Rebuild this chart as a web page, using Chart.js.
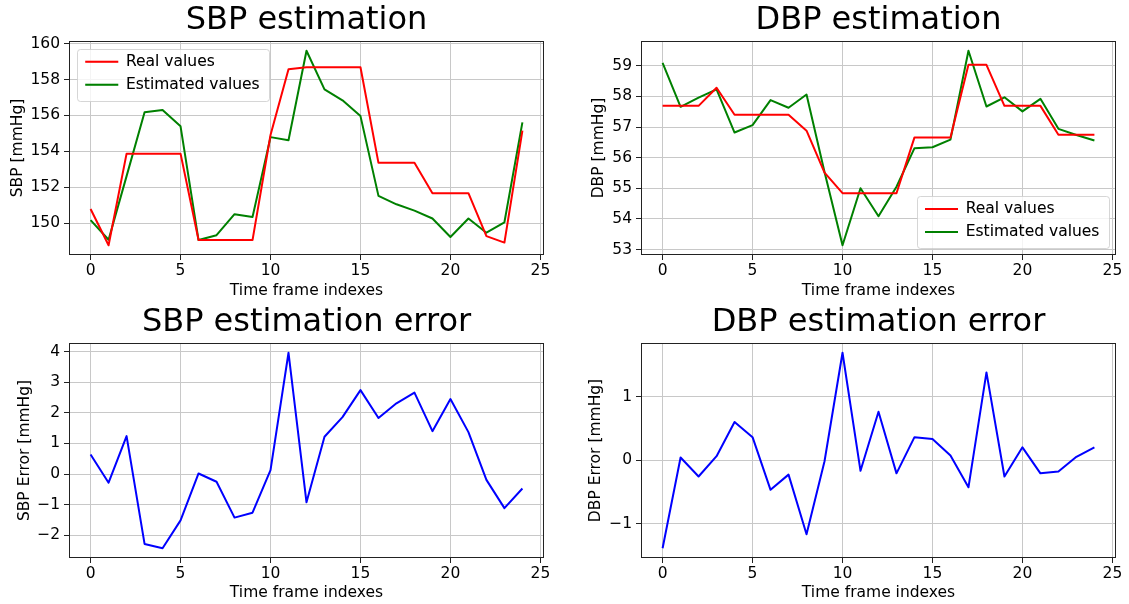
<!DOCTYPE html>
<html>
<head>
<meta charset="utf-8">
<script src="https://cdn.jsdelivr.net/npm/chart.js@4.4.1/dist/chart.umd.min.js"></script>
<style>
  html, body { margin: 0; padding: 0; background: #fff; }
  #wrap { position: relative; width: 1129px; height: 604px; }
  canvas { position: absolute; }
</style>
</head>
<body>
<div id="wrap">
  <canvas id="sbpChart" width="564" height="302" style="left:0;top:0"></canvas>
  <canvas id="dbpChart" width="565" height="302" style="left:564px;top:0"></canvas>
  <canvas id="sbpErrChart" width="564" height="302" style="left:0;top:302px"></canvas>
  <canvas id="dbpErrChart" width="565" height="302" style="left:564px;top:302px"></canvas>
</div>
<script>
const frameIdx = [0, 1, 2, 3, 4, 5, 6, 7, 8, 9, 10, 11, 12, 13, 14, 15, 16, 17, 18, 19, 20, 21, 22, 23, 24];

const sbpReal = [150.79, 148.77, 153.87, 153.87, 153.87, 153.87, 149.06, 149.06, 149.06, 149.06, 154.91, 158.57, 158.68,
  158.68, 158.68, 158.68, 153.36, 153.36, 153.36, 151.67, 151.67, 151.67, 149.28, 148.92, 155.15];
const sbpEst = [150.17, 149.08, 152.62, 156.17, 156.30, 155.39, 149.06, 149.33, 150.50, 150.34, 154.79, 154.62, 159.60,
  157.45, 156.84, 155.96, 151.52, 151.05, 150.70, 150.26, 149.23, 150.26, 149.47, 150.05, 155.61];
const sbpErr = [0.64, -0.28, 1.24, -2.28, -2.42, -1.51, 0.02, -0.25, -1.42, -1.26, 0.13, 3.96, -0.92,
  1.22, 1.86, 2.74, 1.83, 2.31, 2.66, 1.40, 2.45, 1.37, -0.19, -1.11, -0.47];

const dbpReal = [57.69, 57.69, 57.69, 58.28, 57.40, 57.40, 57.40, 57.40, 56.88, 55.51, 54.84, 54.84, 54.84,
  54.84, 56.66, 56.66, 56.66, 59.03, 59.03, 57.69, 57.69, 57.69, 56.75, 56.75, 56.75];
const dbpEst = [59.09, 57.66, 57.96, 58.23, 56.82, 57.06, 57.88, 57.63, 58.06, 55.53, 53.14, 55.00, 54.09,
  55.05, 56.31, 56.34, 56.59, 59.49, 57.67, 57.97, 57.51, 57.92, 56.94, 56.74, 56.56];
const dbpErr = [-1.39, 0.04, -0.26, 0.06, 0.60, 0.36, -0.47, -0.23, -1.17, -0.02, 1.69, -0.17, 0.76,
  -0.21, 0.36, 0.33, 0.07, -0.43, 1.38, -0.26, 0.20, -0.21, -0.18, 0.05, 0.20];

const xTicks = [0, 5, 10, 15, 20, 25];
const sbpTicks = [150, 152, 154, 156, 158, 160];
const dbpTicks = [53, 54, 55, 56, 57, 58, 59];
const sbpErrTicks = [-2, -1, 0, 1, 2, 3, 4];
const dbpErrTicks = [-1, 0, 1];

Chart.defaults.font.family = "'DejaVu Sans', sans-serif";
Chart.defaults.color = '#000';

const FS = 15.5;
const pts = ys => ys.map((y, i) => ({ x: frameIdx[i], y }));
const fmt = v => String(v).replace('-', '\u2212');

// matplotlib style 5% margins
function limits(...arrs) {
  const all = arrs.flat();
  const lo = Math.min(...all), hi = Math.max(...all);
  const m = (hi - lo) * 0.05;
  return [lo - m, hi + m];
}
const [xMin, xMax] = limits(frameIdx);

// spines + legend frame inside the axes
const mplFrame = {
  id: 'mplFrame',
  afterLayout(chart, args, opts) {
    const lg = chart.legend;
    if (!opts.corner || !lg) return;
    const ca = chart.chartArea;
    const fw = 192, fh = 52;
    const fx = opts.corner === 'tl' ? ca.left + 7.75 : ca.right - 7.5 - fw;
    const fy = opts.corner === 'tl' ? ca.top + 7.75 : ca.bottom - 7 - fh;
    chart.$frameBox = { fx, fy, fw, fh };
    lg.left = fx + 1;
    lg.top = fy - 2.25;
    lg.right = fx + fw;
    lg.bottom = fy + fh + 10;
    lg.width = lg.right - lg.left;
    lg.height = lg.bottom - lg.top;
  },
  afterDatasetsDraw(chart) {
    const ctx = chart.ctx, ca = chart.chartArea;
    ctx.save();
    ctx.strokeStyle = '#222';
    ctx.lineWidth = 1;
    const l = Math.round(ca.left) + 0.5, r = Math.round(ca.right) - 0.5;
    const t = Math.round(ca.top) + 0.5, b = Math.round(ca.bottom) - 0.5;
    ctx.strokeRect(l, t, r - l, b - t);
    if (chart.$frameBox) {
      const { fx, fy, fw, fh } = chart.$frameBox;
      ctx.beginPath();
      ctx.roundRect(Math.round(fx) + 0.5, Math.round(fy) + 0.5, fw, fh, 3);
      ctx.fillStyle = 'rgba(255,255,255,0.8)';
      ctx.fill();
      ctx.strokeStyle = 'rgba(204,204,204,0.8)';
      ctx.stroke();
      ctx.restore();
      chart.legend.draw();
      return;
    }
    ctx.restore();
  }
};

function makeChart(id, p) {
  const [yMin, yMax] = limits(...p.datasets.map(d => d.values));
  const grid = { color: '#c8c8c8', lineWidth: 1, drawTicks: true, tickLength: 5, tickColor: '#222', tickWidth: 1 };
  return new Chart(document.getElementById(id), {
    type: 'line',
    data: {
      datasets: p.datasets.map(d => ({
        label: d.label,
        data: pts(d.values),
        borderColor: d.color,
        backgroundColor: d.color,
        borderWidth: 2,
        borderJoinStyle: 'round',
        pointRadius: 0,
        tension: 0
      }))
    },
    options: {
      responsive: false,
      animation: false,
      events: [],
      layout: { padding: { left: 0, right: p.padRight, top: 0, bottom: 0 } },
      plugins: {
        title: {
          display: true, text: p.title, color: '#000', fullSize: false,
          font: { size: 32, weight: 'normal' },
          padding: { top: 1, bottom: 1.6 }
        },
        legend: p.legend ? {
          display: true,
          position: 'chartArea',
          align: 'start',
          labels: {
            usePointStyle: true, pointStyle: 'line', pointStyleWidth: 33,
            boxHeight: FS, padding: 7.5, color: '#000', font: { size: FS }
          }
        } : { display: false },
        tooltip: { enabled: false },
        mplFrame: { corner: p.legend }
      },
      scales: {
        x: {
          type: 'linear', min: xMin, max: xMax,
          afterBuildTicks: s => { s.ticks = xTicks.map(v => ({ value: v })); },
          afterFit: s => { s.height = p.xHeight; },
          ticks: { autoSkip: false, maxRotation: 0, padding: 2, font: { size: FS }, color: '#000', callback: fmt },
          grid: grid,
          border: { display: false },
          title: { display: true, text: 'Time frame indexes', color: '#000', font: { size: FS }, padding: { top: 0, bottom: 2 } }
        },
        y: {
          type: 'linear', min: yMin, max: yMax,
          afterBuildTicks: s => { s.ticks = p.yTicks.map(v => ({ value: v })); },
          afterFit: s => { s.width = p.yWidth; },
          ticks: { autoSkip: false, padding: 4, font: { size: FS }, color: '#000', callback: fmt },
          grid: grid,
          border: { display: false },
          title: { display: true, text: p.yTitle, color: '#000', font: { size: FS }, padding: { top: p.yTitlePad, bottom: 0 } }
        }
      }
    },
    plugins: [mplFrame]
  });
}

makeChart('sbpChart', {
  title: 'SBP estimation', yTitle: 'SBP [mmHg]', yTicks: sbpTicks,
  yWidth: 69, padRight: 20, xHeight: 47, yTitlePad: 8.2, legend: 'tl',
  datasets: [
    { label: 'Real values', values: sbpReal, color: '#ff0000' },
    { label: 'Estimated values', values: sbpEst, color: '#008000' }
  ]
});

makeChart('dbpChart', {
  title: 'DBP estimation', yTitle: 'DBP [mmHg]', yTicks: dbpTicks,
  yWidth: 77, padRight: 13, xHeight: 47, yTitlePad: 26, legend: 'br',
  datasets: [
    { label: 'Real values', values: dbpReal, color: '#ff0000' },
    { label: 'Estimated values', values: dbpEst, color: '#008000' }
  ]
});

makeChart('sbpErrChart', {
  title: 'SBP estimation error', yTitle: 'SBP Error [mmHg]', yTicks: sbpErrTicks,
  yWidth: 69, padRight: 20, xHeight: 46, yTitlePad: 15.2, legend: null,
  datasets: [{ label: 'SBP error', values: sbpErr, color: '#0000ff' }]
});

makeChart('dbpErrChart', {
  title: 'DBP estimation error', yTitle: 'DBP Error [mmHg]', yTicks: dbpErrTicks,
  yWidth: 77, padRight: 13, xHeight: 46, yTitlePad: 23, legend: null,
  datasets: [{ label: 'DBP error', values: dbpErr, color: '#0000ff' }]
});
</script>
</body>
</html>
